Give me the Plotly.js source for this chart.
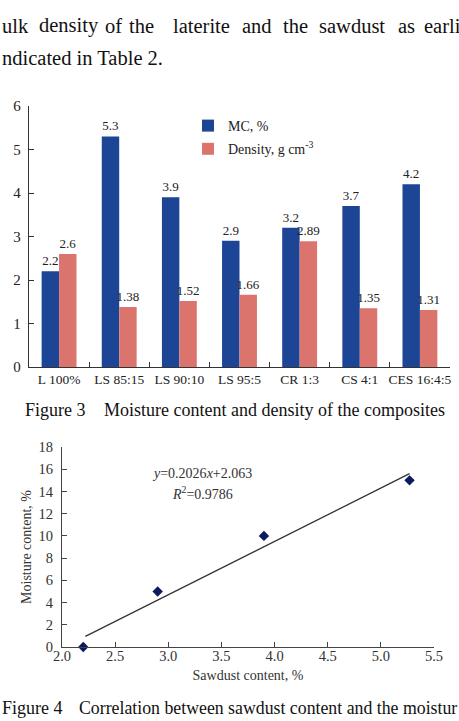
<!DOCTYPE html>
<html><head><meta charset="utf-8">
<script src="https://cdn.plot.ly/plotly-3.0.1.min.js"></script>
<style>html,body{margin:0;padding:0;background:#fff;overflow:hidden}</style>
</head><body><div id="chart" style="width:459px;height:721px"></div>
<script>
// ---- Figure 3 data ----
const composites = ["L 100%","LS 85:15","LS 90:10","LS 95:5","CR 1:3","CS 4:1","CES 16:4:5"];
const moistureContent = [2.2,5.3,3.9,2.9,3.2,3.7,4.2];
const mcLabels = ["2.2","5.3","3.9","2.9","3.2","3.7","4.2"];
const density = [2.6,1.38,1.52,1.66,2.89,1.35,1.31];
const densityLabels = ["2.6","1.38","1.52","1.66","2.89","1.35","1.31"];
// ---- Figure 4 data ----
const sawdustContent = [2.2,2.9,3.9,5.27];
const moistureFig4 = [0,5,10,15];
const trendX = [2.22,5.27];
const trendY = [0.95,15.6];
// ---- page text ----
const bodyLine2Words = ["ulk","density","of","the","laterite","and","the","sawdust","as","earli"];
const bodyLine2X = [0,37,103,127,171,240,281,317,396,422];
const bodyLine3 = "ndicated in Table 2.";

const W = 459, H = 721;
const px = x => x / W;
const py = y => 1 - y / H;
const serif = "Liberation Serif, Times New Roman, serif";

const traces = [
  {type:"bar", x:composites, y:moistureContent, name:"MC, %", text:mcLabels,
   textposition:"outside", constraintext:"none", cliponaxis:false, marker:{color:"#1d4596"},
   textfont:{family:serif,size:13,color:"#222"}, xaxis:"x", yaxis:"y",
   legendgroup:"a", hoverinfo:"x+y"},
  {type:"bar", x:composites, y:density, name:"Density, g cm<sup>-3</sup>", text:densityLabels,
   textposition:"outside", constraintext:"none", cliponaxis:false, marker:{color:"#dc746e"},
   textfont:{family:serif,size:13,color:"#222"}, xaxis:"x", yaxis:"y",
   legendgroup:"b", hoverinfo:"x+y"},
  {type:"scatter", mode:"lines", x:trendX, y:trendY, xaxis:"x2", yaxis:"y2",
   line:{color:"#333", width:1.3}, showlegend:false},
  {type:"scatter", mode:"markers", x:sawdustContent, y:moistureFig4, xaxis:"x2", yaxis:"y2",
   marker:{symbol:"diamond", size:8, color:"#0c1a5e"}, showlegend:false, cliponaxis:false}
];

const txt = (x,y,text,size,color) => ({xref:"paper",yref:"paper",x:px(x),y:py(y),xanchor:"left",
  yanchor:"middle",text:text,showarrow:false,font:{family:serif,size:size,color:color||"#111"}});
const ann = [];
bodyLine2Words.forEach((w,i)=>ann.push(txt(bodyLine2X[i],26,w,20.5)));
ann.push(txt(0,58,bodyLine3,20.5));
ann.push(txt(23,410,"Figure 3",18));
ann.push(txt(102,410,"Moisture content and density of the composites",18));
ann.push(txt(0,708,"Figure 4",18));
ann.push(txt(77,708,"Correlation between sawdust content and the moistur",17.8));
ann.push(txt(150,473,"<i>y</i>=0.2026<i>x</i>+2.063",14,"#333"));
ann.push(txt(170,493,"<i>R</i><sup>2</sup>=0.9786",14,"#333"));

const layout = {
  width:W, height:H, margin:{l:0,r:0,t:0,b:0}, paper_bgcolor:"#fff", plot_bgcolor:"rgba(0,0,0,0)",
  font:{family:serif,color:"#222"},
  barmode:"group", bargap:0.42, bargroupgap:0,
  showlegend:true,
  legend:{x:px(188),y:py(110),xanchor:"left",yanchor:"top",bgcolor:"rgba(0,0,0,0)",
    font:{family:serif,size:14,color:"#222"},traceorder:"grouped",tracegroupgap:2},
  xaxis:{domain:[px(29),px(450)],anchor:"y",type:"category",showline:true,linecolor:"#333",linewidth:1.2,
    ticks:"inside",ticklen:5,tickcolor:"#333",tickson:"boundaries",showgrid:false,tickangle:0,
    tickfont:{family:serif,size:13.5,color:"#222"},fixedrange:true},
  yaxis:{domain:[py(367),py(106)],anchor:"x",range:[0,6],dtick:1,showline:true,linecolor:"#333",linewidth:1.2,
    ticks:"inside",ticklen:5,tickcolor:"#333",showgrid:false,zeroline:false,ticklabelstandoff:4,
    tickfont:{family:serif,size:15,color:"#222"}},
  xaxis2:{domain:[px(62),px(434)],anchor:"y2",range:[2,5.5],dtick:0.5,tickformat:".1f",
    showline:true,linecolor:"#444",linewidth:1.2,ticks:"inside",ticklen:5,tickcolor:"#444",
    showgrid:false,zeroline:false,tickfont:{family:serif,size:14.5,color:"#333"},ticklabelstandoff:-5,
    title:{text:"Sawdust content, %",font:{family:serif,size:14,color:"#333"},standoff:7}},
  yaxis2:{domain:[py(647),py(447)],anchor:"x2",range:[0,18],dtick:2,
    showline:true,linecolor:"#444",linewidth:1.2,ticks:"inside",ticklen:5,tickcolor:"#444",
    showgrid:false,zeroline:false,tickfont:{family:serif,size:14.5,color:"#333"},ticklabelstandoff:5,
    title:{text:"Moisture content, %",font:{family:serif,size:14,color:"#333"},standoff:3}},
  annotations:ann
};
Plotly.newPlot("chart", traces, layout, {displayModeBar:false, staticPlot:true});
</script></body></html>
